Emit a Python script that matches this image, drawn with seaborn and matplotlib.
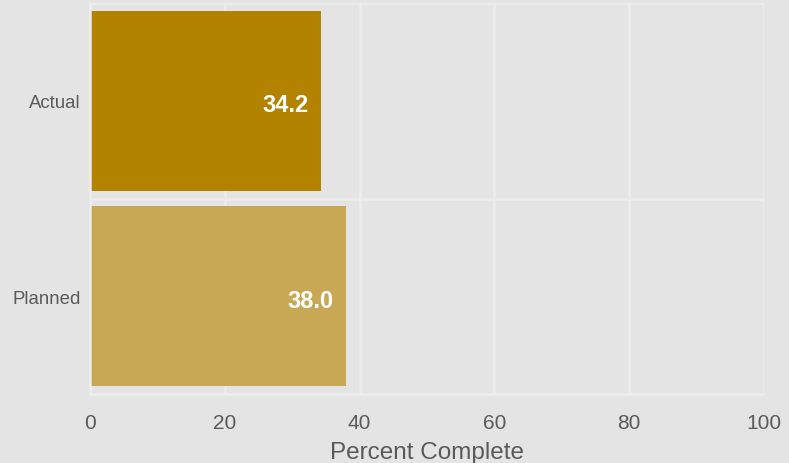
import matplotlib
matplotlib.use("Agg")
import matplotlib.pyplot as plt
import seaborn as sns
from matplotlib.ticker import FixedLocator

# data
categories = ["Actual", "Planned"]
percent_complete = [34.2, 38.0]
bar_colors = ["#b38300", "#c9a855"]
x_ticks = [0, 20, 40, 60, 80, 100]

bg = "#e4e4e4"
grid_col = "#ececec"
text_col = "#5a5a5a"

sns.set_style("darkgrid")
plt.rcParams["font.family"] = ["Liberation Sans", "DejaVu Sans"]

fig = plt.figure(figsize=(7.89, 4.64), dpi=100, facecolor=bg)
ax = fig.add_axes([90 / 789, 1 - 395 / 464, (764 - 90) / 789, (395 - 4) / 464])
ax.set_facecolor(bg)

sns.barplot(x=percent_complete, y=categories, hue=categories, palette=bar_colors,
            orient="h", width=0.92, legend=False, saturation=1, linewidth=0, ax=ax)

# value labels inside the bars
for i, v in enumerate(percent_complete):
    ax.text(v - 1.8, i + 0.02, f"{v:.1f}", ha="right", va="center",
            color="white", fontweight="bold", fontsize=17)

ax.set_xlim(0, 100)
ax.set_ylim(1.5, -0.5)
ax.set_xticks(x_ticks)
ax.set_xticklabels([str(t) for t in x_ticks], fontsize=15, color=text_col)
ax.set_yticks(range(len(categories)))
ax.set_yticklabels(categories, fontsize=13.4, color=text_col)
ax.yaxis.set_minor_locator(FixedLocator([-0.5, 0.5, 1.5]))

ax.tick_params(axis="x", which="major", length=0, pad=14)
ax.tick_params(axis="y", which="major", length=0, pad=6.5)
ax.tick_params(axis="y", which="minor", length=6, width=1.8, color=grid_col)

ax.grid(False)
ax.grid(True, axis="x", which="major", color=grid_col, linewidth=1.8)
ax.grid(True, axis="y", which="minor", color=grid_col, linewidth=1.8)
ax.set_axisbelow(True)

for side in ["top", "right"]:
    ax.spines[side].set_visible(False)
for side in ["left", "bottom"]:
    ax.spines[side].set_visible(True)
    ax.spines[side].set_color(grid_col)
    ax.spines[side].set_linewidth(1.8)

ax.set_xlabel("Percent Complete", fontsize=17.5, color=text_col, labelpad=6)
ax.set_ylabel("")

fig.savefig("out.png", dpi=100, facecolor=bg)
